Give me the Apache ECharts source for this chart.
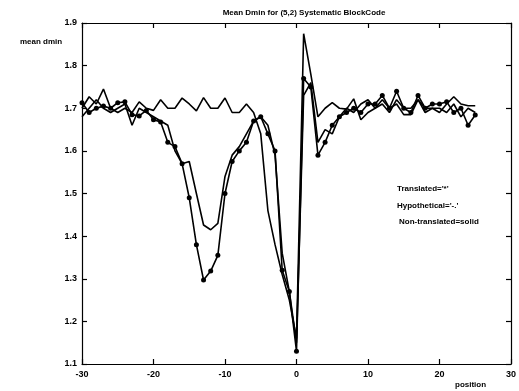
<!DOCTYPE html>
<html>
<head>
<meta charset="utf-8">
<script src="https://cdn.jsdelivr.net/npm/echarts@6/dist/echarts.min.js"></script>
<style>
  html, body { margin: 0; padding: 0; background: #fff; }
  #chart { width: 519px; height: 391px; }
</style>
</head>
<body>
<div id="chart"></div>
<script>
// positions along the sequence
const positions = [-30, -29, -28, -27, -26, -25, -24, -23, -22, -21,
  -20, -19, -18, -17, -16, -15, -14, -13, -12, -11,
  -10, -9, -8, -7, -6, -5, -4, -3, -2, -1,
  0, 1, 2, 3, 4, 5, 6, 7, 8, 9,
  10, 11, 12, 13, 14, 15, 16, 17, 18, 19,
  20, 21, 22, 23, 24, 25];

// Translated = '*'
const translated = [1.713, 1.69, 1.70, 1.705, 1.70, 1.713, 1.715, 1.685, 1.682, 1.695,
  1.673, 1.668, 1.62, 1.61, 1.57, 1.49, 1.38, 1.297, 1.318, 1.355,
  1.50, 1.575, 1.60, 1.62, 1.67, 1.68, 1.64, 1.60, 1.32, 1.27,
  1.13, 1.77, 1.75, 1.59, 1.62, 1.66, 1.68, 1.69, 1.70, 1.69,
  1.71, 1.71, 1.73, 1.70, 1.74, 1.70, 1.69, 1.73, 1.70, 1.71,
  1.71, 1.715, 1.69, 1.70, 1.66, 1.684];

// Hypothetical = '-.'
const hypothetical = [1.68, 1.70, 1.72, 1.70, 1.69, 1.70, 1.71, 1.66, 1.70, 1.69,
  1.68, 1.67, 1.66, 1.60, 1.57, 1.575, 1.50, 1.426, 1.415, 1.43,
  1.54, 1.59, 1.61, 1.64, 1.67, 1.68, 1.66, 1.59, 1.36, 1.27,
  1.15, 1.73, 1.76, 1.62, 1.65, 1.64, 1.68, 1.70, 1.69, 1.71,
  1.72, 1.70, 1.71, 1.69, 1.72, 1.70, 1.70, 1.72, 1.69, 1.70,
  1.70, 1.69, 1.71, 1.68, 1.70, 1.69];

// Non-translated = solid
const nonTranslated = [1.70, 1.727, 1.71, 1.745, 1.70, 1.69, 1.70, 1.69, 1.715, 1.70,
  1.695, 1.72, 1.70, 1.70, 1.724, 1.71, 1.694, 1.725, 1.70, 1.70,
  1.724, 1.69, 1.69, 1.71, 1.69, 1.64, 1.46, 1.38, 1.31, 1.25,
  1.16, 1.875, 1.78, 1.68, 1.70, 1.713, 1.70, 1.698, 1.722, 1.673,
  1.69, 1.70, 1.72, 1.70, 1.71, 1.685, 1.685, 1.72, 1.70, 1.70,
  1.69, 1.71, 1.727, 1.71, 1.706, 1.706];

const legendLines = ['Translated=\'*\'', 'Hypothetical=\'-.\'', 'Non-translated=solid'];

const pairs = (vals) => positions.map((p, i) => [p, vals[i]]);

const chart = echarts.init(document.getElementById('chart'));

const txt = { fontFamily: 'Liberation Sans', fontWeight: 'bold', fontSize: 9, color: '#000' };

const axisCommon = {
  type: 'value',
  axisLine: { show: true, onZero: false, lineStyle: { color: '#000', width: 1.2 } },
  axisTick: { show: true, inside: true, length: 5, lineStyle: { color: '#000', width: 1.2 } },
  splitLine: { show: false }
};

const option = {
  animation: false,
  backgroundColor: '#fff',
  title: {
    text: 'Mean Dmin for (5,2) Systematic BlockCode',
    left: 299,
    textAlign: 'center',
    top: 4,
    textStyle: { fontFamily: 'Liberation Sans', fontWeight: 'bold', fontSize: 8, color: '#000' }
  },
  grid: { left: 82, right: 3, top: 23, bottom: 27 },
  xAxis: [
    Object.assign({}, axisCommon, {
      min: -30, max: 30, interval: 10, position: 'bottom',
      axisLabel: Object.assign({ margin: 6 }, txt)
    }),
    Object.assign({}, axisCommon, {
      min: -30, max: 30, interval: 10, position: 'top',
      axisLabel: { show: false }
    })
  ],
  yAxis: [
    Object.assign({}, axisCommon, {
      min: 1.1, max: 1.9, interval: 0.1, position: 'left',
      axisLabel: Object.assign({ margin: 5, formatter: (v) => v.toFixed(1) }, txt)
    }),
    Object.assign({}, axisCommon, {
      min: 1.1, max: 1.9, interval: 0.1, position: 'right',
      axisLabel: { show: false }
    })
  ],
  series: [
    {
      name: 'Translated', type: 'line', data: pairs(translated),
      symbol: 'circle', symbolSize: 5, showSymbol: true,
      itemStyle: { color: '#000' },
      lineStyle: { color: '#000', width: 1.6 }
    },
    {
      name: 'Hypothetical', type: 'line', data: pairs(hypothetical),
      showSymbol: false, symbol: 'none',
      lineStyle: { color: '#000', width: 1.6 }
    },
    {
      name: 'Non-translated', type: 'line', data: pairs(nonTranslated),
      showSymbol: false, symbol: 'none',
      lineStyle: { color: '#000', width: 1.6 }
    }
  ],
  graphic: [
    { type: 'text', left: 20, top: 38, style: Object.assign({ text: 'mean dmin', font: 'bold 8px "Liberation Sans"', fill: '#000' }) },
    { type: 'text', left: 455, top: 381, style: { text: 'position', font: 'bold 8px "Liberation Sans"', fill: '#000' } },
    { type: 'text', left: 397, top: 185, style: { text: legendLines[0], font: 'bold 8px "Liberation Sans"', fill: '#000' } },
    { type: 'text', left: 397, top: 202, style: { text: legendLines[1], font: 'bold 8px "Liberation Sans"', fill: '#000' } },
    { type: 'text', left: 399, top: 218, style: { text: legendLines[2], font: 'bold 8px "Liberation Sans"', fill: '#000' } }
  ]
};

chart.setOption(option);
</script>
</body>
</html>
